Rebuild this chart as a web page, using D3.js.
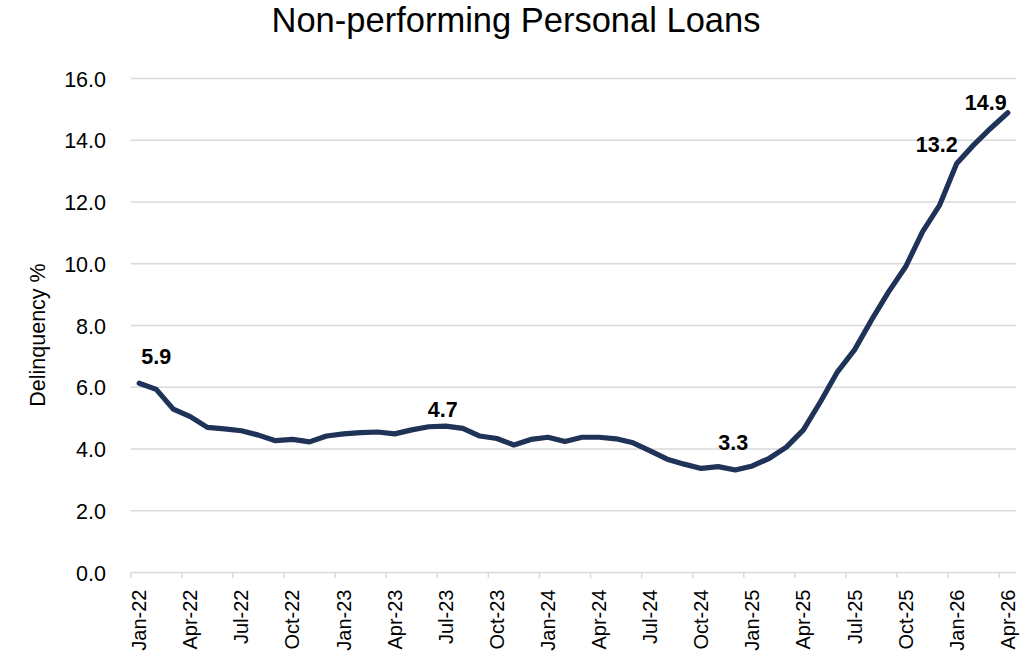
<!DOCTYPE html>
<html>
<head>
<meta charset="utf-8">
<script src="https://cdn.jsdelivr.net/npm/d3@7"></script>
<style>
  html, body { margin: 0; padding: 0; background: #fff; }
  svg { display: block; }
</style>
</head>
<body>
<svg id="chart" width="1024" height="669"></svg>
<script>
// ---- data ----
const months = [
  "Jan-22","Feb-22","Mar-22","Apr-22","May-22","Jun-22","Jul-22","Aug-22","Sep-22","Oct-22","Nov-22","Dec-22",
  "Jan-23","Feb-23","Mar-23","Apr-23","May-23","Jun-23","Jul-23","Aug-23","Sep-23","Oct-23","Nov-23","Dec-23",
  "Jan-24","Feb-24","Mar-24","Apr-24","May-24","Jun-24","Jul-24","Aug-24","Sep-24","Oct-24","Nov-24","Dec-24",
  "Jan-25","Feb-25","Mar-25","Apr-25","May-25","Jun-25","Jul-25","Aug-25","Sep-25","Oct-25","Nov-25","Dec-25",
  "Jan-26","Feb-26","Mar-26","Apr-26"
];
const delinquency = [
  6.13, 5.93, 5.29, 5.05, 4.70, 4.65, 4.59, 4.45, 4.27, 4.31, 4.23, 4.42,
  4.49, 4.53, 4.55, 4.49, 4.62, 4.72, 4.74, 4.67, 4.42, 4.34, 4.13, 4.31,
  4.38, 4.24, 4.38, 4.38, 4.33, 4.20, 3.94, 3.67, 3.51, 3.37, 3.43, 3.32,
  3.45, 3.70, 4.06, 4.62, 5.53, 6.50, 7.21, 8.18, 9.09, 9.90, 11.04, 11.90,
  13.25, 13.85, 14.39, 14.89
];
const xTickLabels = ["Jan-22","Apr-22","Jul-22","Oct-22","Jan-23","Apr-23","Jul-23","Oct-23","Jan-24","Apr-24","Jul-24","Oct-24","Jan-25","Apr-25","Jul-25","Oct-25","Jan-26","Apr-26"];
const yTicks = [0, 2, 4, 6, 8, 10, 12, 14, 16];
const labelMonths = ["Feb-22", "Jul-23", "Dec-24", "Jan-26", "Apr-26"];
const labelTexts  = ["5.9", "4.7", "3.3", "13.2", "14.9"];

const title = "Non-performing Personal Loans";
const yTitle = "Delinquency %";

// ---- layout ----
const svg = d3.select("#chart");
const plot = { left: 130.7, right: 1016.3, top: 78.5, bottom: 572.5 };
// label placement offsets (pixels, relative to the data point)
const labelOffsets = [[0, -25], [-3, -9], [-2, -20], [-20, -11], [-22, -3]];

const x = d3.scaleBand().domain(months).range([plot.left, plot.right]).paddingInner(0).paddingOuter(0);
const y = d3.scaleLinear().domain([0, 16]).range([plot.bottom, plot.top]);
const cx = m => x(m) + x.bandwidth() / 2;

// gridlines
svg.append("g")
  .selectAll("line")
  .data(yTicks.filter(d => d > 0))
  .join("line")
  .attr("x1", plot.left).attr("x2", plot.right)
  .attr("y1", d => y(d)).attr("y2", d => y(d))
  .attr("stroke", "#d9d9d9").attr("stroke-width", 1.5);

// y axis labels
const yAxis = d3.axisLeft(y).tickValues(yTicks).tickFormat(d3.format(".1f")).tickSize(0).tickPadding(0);
const gy = svg.append("g").attr("transform", `translate(106,0)`).call(yAxis);
gy.select(".domain").remove();
gy.selectAll("text")
  .attr("font-family", "'Liberation Sans', Arial, sans-serif")
  .attr("font-size", 21.5)
  .attr("fill", "#000")
  .attr("dy", "0.35em");

// x axis
const xAxis = d3.axisBottom(x).tickValues(xTickLabels).tickSize(0).tickPadding(0);
const gx = svg.append("g").attr("transform", `translate(0,${plot.bottom})`).call(xAxis);
gx.select(".domain").attr("stroke", "#d9d9d9").attr("stroke-width", 1.5)
  .attr("d", `M${plot.left},0H${plot.right}`);
gx.selectAll(".tick line").remove();
gx.selectAll(".tick text")
  .attr("font-family", "'Liberation Sans', Arial, sans-serif")
  .attr("font-size", 20)
  .attr("fill", "#000")
  .attr("text-anchor", "end")
  .attr("transform", "translate(0,17) rotate(-90)")
  .attr("x", 0).attr("y", 0)
  .attr("dy", "0.35em");
// tick marks at category boundaries
gx.append("g").selectAll("line")
  .data(xTickLabels)
  .join("line")
  .attr("x1", d => x(d)).attr("x2", d => x(d))
  .attr("y1", 0).attr("y2", 5.5)
  .attr("stroke", "#d9d9d9").attr("stroke-width", 1.5);

// line
const line = d3.line()
  .x((d, i) => cx(months[i]))
  .y(d => y(d));
svg.append("path")
  .datum(delinquency)
  .attr("d", line)
  .attr("fill", "none")
  .attr("stroke", "#1f3257")
  .attr("stroke-width", 5.2)
  .attr("stroke-linejoin", "round")
  .attr("stroke-linecap", "round");

// data labels
svg.append("g").selectAll("text")
  .data(labelMonths)
  .join("text")
  .attr("x", (m, i) => cx(m) + labelOffsets[i][0])
  .attr("y", (m, i) => y(delinquency[months.indexOf(m)]) + labelOffsets[i][1])
  .attr("text-anchor", "middle")
  .attr("font-family", "'Liberation Sans', Arial, sans-serif")
  .attr("font-weight", "bold")
  .attr("font-size", 21.5)
  .attr("fill", "#000")
  .text((m, i) => labelTexts[i]);

// title
svg.append("text")
  .attr("x", 516).attr("y", 32)
  .attr("text-anchor", "middle")
  .attr("font-family", "'Liberation Sans', Arial, sans-serif")
  .attr("font-size", 34.5)
  .attr("fill", "#000")
  .text(title);

// y title
svg.append("text")
  .attr("transform", `translate(45,335) rotate(-90)`)
  .attr("text-anchor", "middle")
  .attr("font-family", "'Liberation Sans', Arial, sans-serif")
  .attr("font-size", 21.5)
  .attr("fill", "#000")
  .text(yTitle);
</script>
</body>
</html>
